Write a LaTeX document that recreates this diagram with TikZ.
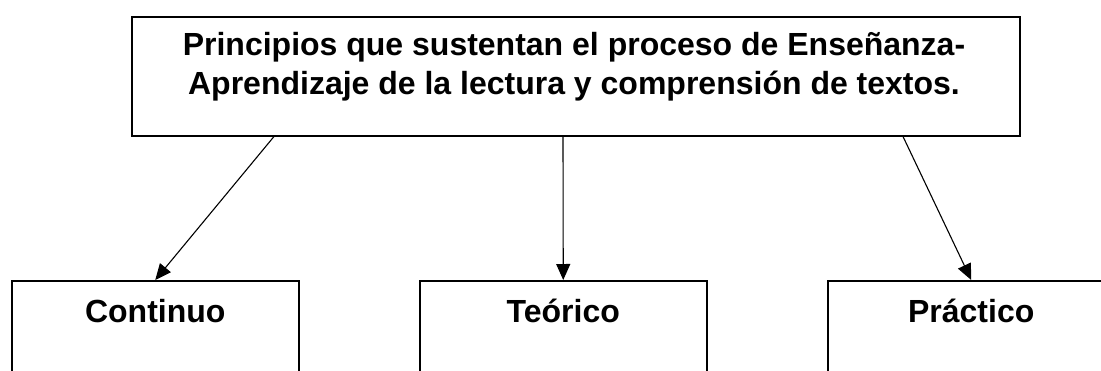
\documentclass[tikz,border=0pt]{standalone}
\usepackage{fontspec}
\setmainfont{Liberation Sans}
\usetikzlibrary{arrows.meta,positioning,calc}

\begin{document}
\begin{tikzpicture}[x=1pt,y=1pt,
    caja/.style={draw=black,line width=1.5pt,inner sep=0pt},
    flecha/.style={line width=1.1pt,-{Triangle[length=16pt,width=14pt]}}]
    \useasboundingbox (0,0) rectangle (1101,-370);
    \clip (0,0) rectangle (1101,-370);
    % caja principal
    \node[caja,minimum width=888pt,minimum height=119pt,anchor=north west] (princ) at (131,-16) {};
    \node[font=\bfseries\fontsize{32}{39}\selectfont,align=center,inner sep=0pt] (princt) at (574,-67)
      {Principios que sustentan el proceso de Enseñanza-\\Aprendizaje de la lectura y comprensión de textos.};
    \foreach \x/\n/\t in {11/cont/Continuo, 419/teor/Teórico, 827/prac/Práctico}
    {
      \node[caja,minimum width=287pt,minimum height=150pt,anchor=north west] (\n) at (\x,-280) {};
      \node[font=\bfseries\fontsize{32}{36}\selectfont,anchor=base,inner sep=0pt] (\n t) at ([yshift=-42pt]\n.north) {\t};
    }
    % salidas de las flechas
    \coordinate (s1) at ([xshift=143pt]princ.south west);
    \coordinate (s2) at ([xshift=432pt]princ.south west);
    \coordinate (s3) at ([xshift=772pt]princ.south west);
    \draw[flecha] (s1) -- (cont.north);
    \draw[flecha] (s2) -- (teor.north);
    \draw[flecha] (s3) -- (prac.north);
  \end{tikzpicture}
\end{document}
